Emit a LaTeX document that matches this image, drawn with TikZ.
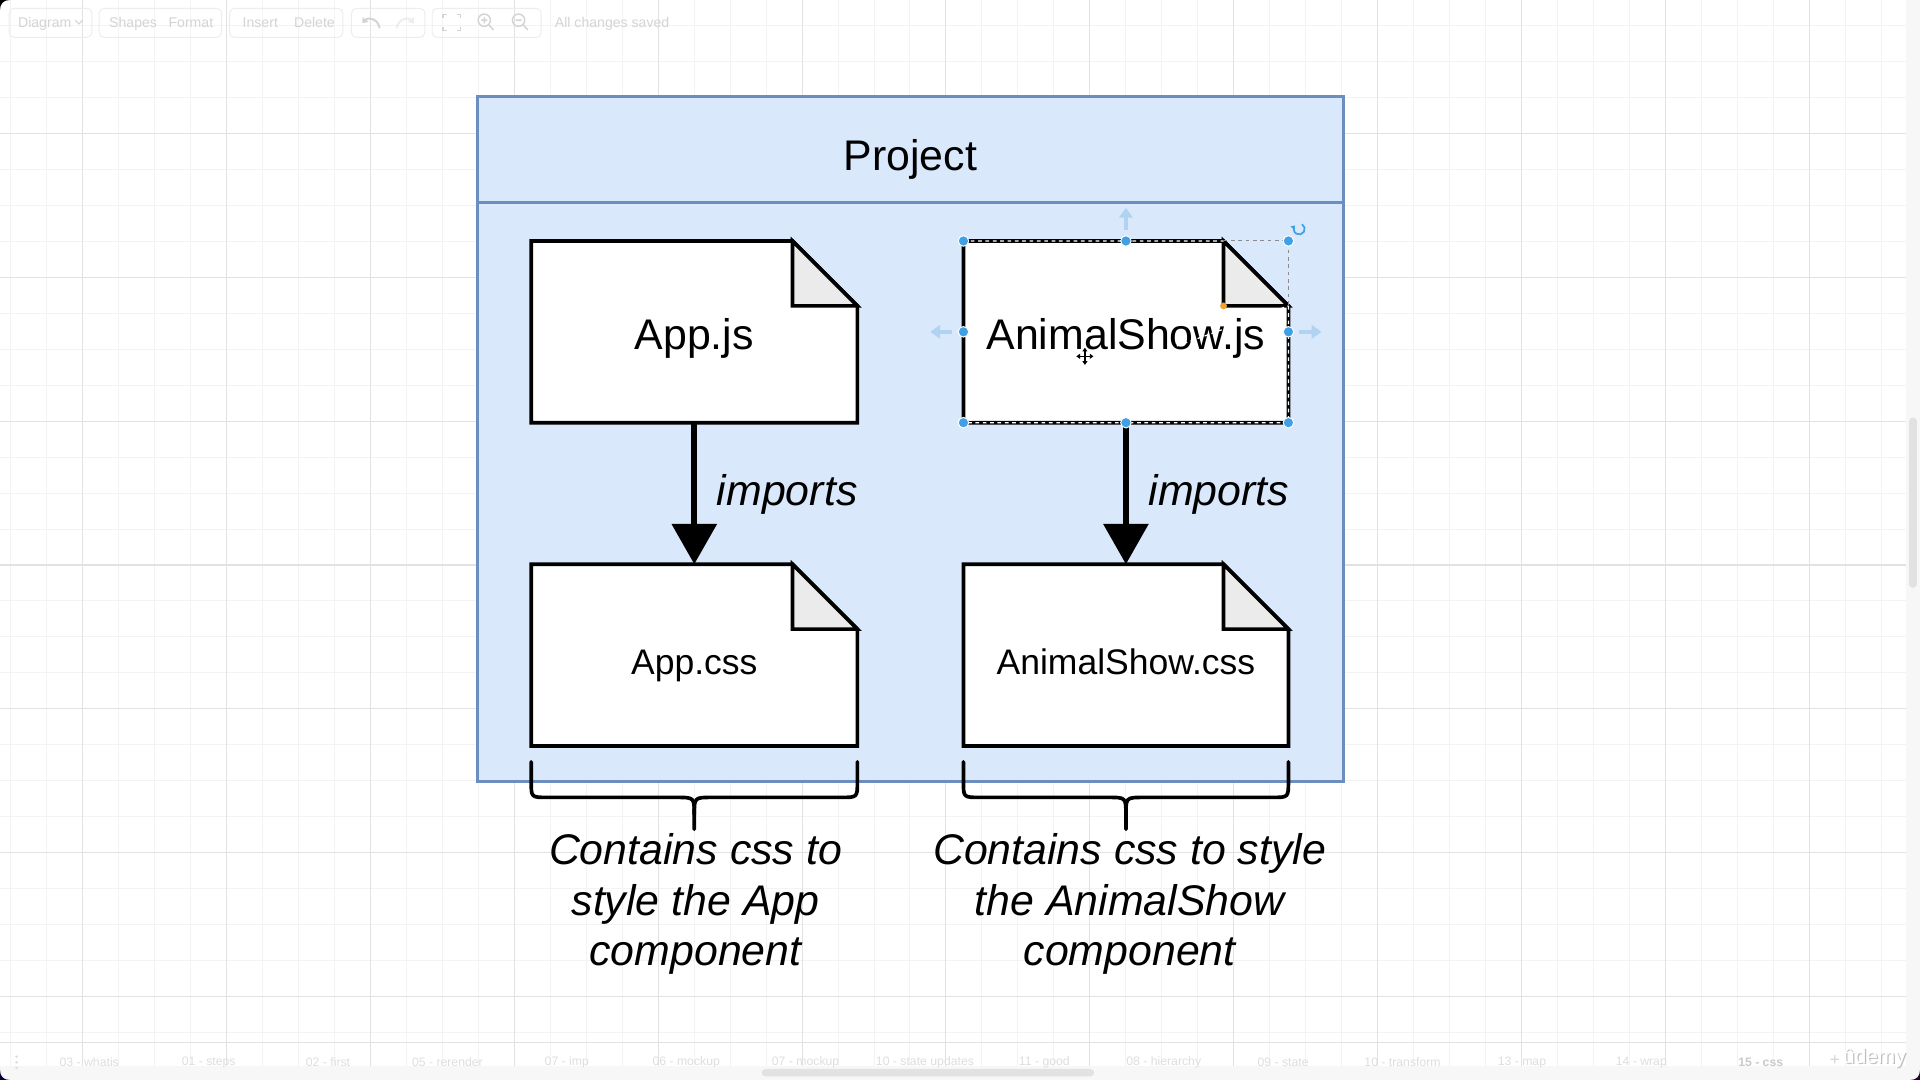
\documentclass[tikz,border=0pt]{standalone}
\usepackage{fontspec}
\setmainfont{Liberation Sans}
\usetikzlibrary{arrows.meta,calc}
\pgfdeclarelayer{bg}
\pgfsetlayers{bg,main}
\definecolor{projfill}{HTML}{DAE8FC}
\definecolor{projline}{HTML}{6C8EBF}
\definecolor{gridmaj}{HTML}{E2E2E2}
\definecolor{gridmin}{HTML}{F3F3F3}
\definecolor{foldfill}{HTML}{EBEBEB}
\definecolor{selblue}{HTML}{3FA0E6}
\definecolor{sellight}{HTML}{AFD3F1}
\definecolor{uitext}{HTML}{D4D4D4}
\definecolor{uibox}{HTML}{EDEDED}
\definecolor{tabtext}{HTML}{DEDEDE}
\definecolor{tabbold}{HTML}{CACACA}
\definecolor{barfill}{HTML}{F7F7F7}
\definecolor{thumb}{HTML}{E2E2E2}
\definecolor{orangedot}{HTML}{F0A030}
\newcommand\drawnote[1]{%
  \draw[noteline, fill=white] (#1.north west) -- ([xshift=-53pt]#1.north east) -- ([yshift=-53pt]#1.north east) -- (#1.south east) -- (#1.south west) -- cycle;
  \draw[noteline, fill=foldfill] ([xshift=-53pt]#1.north east) -- ([xshift=-53pt,yshift=-53pt]#1.north east) -- ([yshift=-53pt]#1.north east) -- cycle;}
\newcommand\drawbrace[1]{%
  \draw[bracestyle] ([yshift=-13pt]#1.south west) -- ([yshift=-29pt]#1.south west)
    .. controls ([yshift=-42pt]#1.south west) .. ([xshift=13pt,yshift=-42pt]#1.south west)
    -- ([xshift=-15pt,yshift=-42pt]#1.south)
    .. controls ([yshift=-42pt]#1.south) .. ([yshift=-56pt]#1.south) -- ([yshift=-68pt]#1.south);
  \draw[bracestyle] ([yshift=-56pt]#1.south)
    .. controls ([yshift=-42pt]#1.south) .. ([xshift=15pt,yshift=-42pt]#1.south)
    -- ([xshift=-13pt,yshift=-42pt]#1.south east)
    .. controls ([yshift=-42pt]#1.south east) .. ([yshift=-29pt]#1.south east) -- ([yshift=-13pt]#1.south east);}
\begin{document}
\begin{tikzpicture}[x=1pt,y=-1pt,
  noteline/.style={draw=black, line width=3pt, line join=miter},
  notebox/.style={minimum width=266pt, minimum height=148pt, inner sep=0pt, text height=29pt, text depth=0pt, font=\fontsize{35}{42}\selectfont},
  cssbox/.style={notebox, text height=31pt, font=\fontsize{29}{35}\selectfont},
  imparrow/.style={line width=5pt, -{Triangle[width=36pt,length=33pt]}},
  implabel/.style={font=\fontsize{35}{42}\selectfont\itshape, inner sep=0pt},
  bracestyle/.style={line width=3pt, line cap=round, line join=round},
  desc/.style={font=\fontsize{35}{41.5}\selectfont\itshape, align=center, inner sep=0pt},
  uitxt/.style={text=uitext, font=\fontsize{11.5}{13}\selectfont, inner sep=0pt, anchor=base west},
  tabtxt/.style={text=tabtext, font=\fontsize{10}{12}\selectfont, inner sep=0pt},
  uiboxst/.style={draw=uibox, line width=0.8pt, rounded corners=4pt},
  handle/.style={fill=selblue, draw=white, line width=0.8pt},
  hint/.style={draw=sellight, line width=3pt, -{Triangle[width=11pt,length=8pt]}},
]
\useasboundingbox (0,0) rectangle (1568,882);

% ---- nodes (text) ----
\node[font=\fontsize{35}{42}\selectfont, inner sep=0pt] (title) at (743.5,130) {Project};
\node[notebox] (appjs) at (567,271) {App.js};
\node[notebox, minimum width=265pt] (asjs) at (919.5,271) {AnimalShow.js};
\node[cssbox] (appcss) at (567,535) {App.css};
\node[cssbox, minimum width=265pt] (ascss) at (919.5,535) {AnimalShow.css};

\begin{pgfonlayer}{bg}
  \fill[white] (0,0) rectangle (1568,882);
  \foreach \i in {-2,...,52} \draw[gridmin, line width=0.8pt] ({67.5+29.375*\i},0) -- ({67.5+29.375*\i},882);
  \foreach \i in {-3,...,27} \draw[gridmin, line width=0.8pt] (0,{108.9+29.375*\i}) -- (1568,{108.9+29.375*\i});
  \foreach \i in {-1,...,13} \draw[gridmaj, line width=0.9pt] ({67.5+117.5*\i},0) -- ({67.5+117.5*\i},882);
  \foreach \i in {-1,...,7} \draw[gridmaj, line width=0.9pt] (0,{108.9+117.5*\i}) -- (1568,{108.9+117.5*\i});
  % bottom bar and scroll tracks
  \draw[gridmaj, line width=0.8pt] (0,851.5) -- (1556.6,851.5);
  \fill[barfill] (0,870.5) rectangle (1568,882);
  \fill[barfill] (1556.6,0) rectangle (1568,882);
  \fill[thumb, rounded corners=3pt] (622,873) rectangle (893.5,879);
  \fill[thumb, rounded corners=3pt] (1559,341) rectangle (1565.5,480);
  % container
  \node[draw=projline, fill=projfill, line width=2.5pt, minimum width=707pt, minimum height=559pt, inner sep=0pt] (proj) at (743.5,358.5) {};
  \draw[projline, line width=2.5pt] ([yshift=-88pt]proj.north west) -- ([yshift=-88pt]proj.north east);
  % notes
  \drawnote{appjs}
  \drawnote{asjs}
  \drawnote{appcss}
  \drawnote{ascss}
\end{pgfonlayer}

% ---- toolbar ----
\draw[uiboxst] (7.5,6.8) rectangle (75,30.5);
\draw[uiboxst] (81,6.8) rectangle (181,30.5);
\draw[uiboxst] (187.5,6.8) rectangle (280,30.5);
\draw[uiboxst] (287,6.8) rectangle (347,30.5);
\draw[uiboxst] (353,6.8) rectangle (442,30.5);
\node[uitxt] (tbdiag) at (14.6,22.3) {Diagram};
\draw[uitext, line width=0.9pt] (61.5,16.5) -- (64.5,19.5) -- (67.5,16.5);
\node[uitxt] (tbshapes) at (89,22.3) {Shapes};
\node[uitxt] (tbformat) at (137.5,22.3) {Format};
\node[uitxt] (tbinsert) at (198,22.3) {Insert};
\node[uitxt] (tbdelete) at (240,22.3) {Delete};
\node[uitxt] (tbsaved) at (453,22.8) {All changes saved};
\draw[uitext, line width=1.6pt, -{Triangle[width=6pt,length=4pt]}] (310,23) .. controls (309,15) and (300,14) .. (296,19);
\draw[uibox, line width=1.6pt, -{Triangle[width=6pt,length=4pt]}] (324,23) .. controls (325,15) and (334,14) .. (338,19);
\draw[uitext, line width=1.3pt] (362,15) -- (362,12) -- (365,12) (373,12) -- (376,12) -- (376,15) (376,22) -- (376,25) -- (373,25) (365,25) -- (362,25) -- (362,22);
\draw[uitext, line width=1.2pt] (395.5,16.5) circle (5) (399,20) -- (403,24.5) (393,16.5) -- (398,16.5) (395.5,14) -- (395.5,19);
\draw[uitext, line width=1.2pt] (423.5,16.5) circle (5) (427,20) -- (431,24.5) (421,16.5) -- (426,16.5);

% ---- bottom tabs ----
\foreach \n/\t [count=\k from 0] in {tA/03 - whatis, tB/01 - steps, tC/02 - first, tD/05 - rerender, tE/07 - imp, tF/06 - mockup, tG/07 - mockup, tH/10 - state updates, tI/11 - good, tJ/08 - hierarchy, tK/09 - state, tL/10 - transform, tM/13 - map, tN/14 - wrap}
  \node[tabtxt] (\n) at ({72.9+97.5*\k},867.5) {\t};
\node[tabtxt, text=tabbold, font=\fontsize{10}{12}\selectfont\bfseries] (tO) at (1437.9,867.5) {15 - css};
\foreach \yy in {863,867.5,872} \fill[tabtext] (13.5,\yy) circle (1.2);
\node[text=uitext, font=\fontsize{14}{16}\selectfont, inner sep=0pt] (udplus) at (1498.5,866) {+};
\node[text=black!25, font=\fontsize{17}{19}\selectfont, inner sep=0pt] (udemy) at (1531.8,864.8) {ûdemy};
\node[text=white, font=\fontsize{17}{19}\selectfont, inner sep=0pt] (udemyw) at (1530.8,864) {ûdemy};

% screen corners
\fill[black] (0,0) -- (8,0) .. controls (3,0) and (0,3) .. (0,8) -- cycle;
\fill[black!80!blue] (0,882) -- (8,882) .. controls (3,882) and (0,879) .. (0,874) -- cycle;
\fill[black!70!violet] (1568,882) -- (1560,882) .. controls (1565,882) and (1568,879) .. (1568,874) -- cycle;

% ---- connectors ----
\draw[imparrow] (appjs) -- (appcss) node[midway, anchor=west, xshift=16pt, yshift=-1pt, implabel] (impA) {imports};
\draw[imparrow] (asjs) -- (ascss) node[midway, anchor=west, xshift=16pt, yshift=-1pt, implabel] (impB) {imports};

% ---- braces and descriptions ----
\drawbrace{appcss}
\drawbrace{ascss}
\node[desc] (appdesc) at ([xshift=1pt,yshift=-129pt]appcss.south) {Contains css to\\style the App\\component};
\node[desc] (asdesc) at ([xshift=3pt,yshift=-129pt]ascss.south) {Contains css to style\\the AnimalShow\\component};

% ---- selection overlay on AnimalShow.js ----
\draw[white, line width=1pt, dash pattern=on 3pt off 3pt] (asjs.north west) -- ([xshift=-53pt]asjs.north east) ([yshift=-53pt]asjs.north east) -- (asjs.south east) -- (asjs.south west) -- cycle;
\draw[black!45, line width=0.8pt, dash pattern=on 3pt off 3pt] ([xshift=-53pt]asjs.north east) -- (asjs.north east) -- ([yshift=-53pt]asjs.north east);
\draw[hint] ([xshift=-9pt]asjs.west) -- ([xshift=-27pt]asjs.west);
\draw[hint] ([xshift=9pt]asjs.east) -- ([xshift=27pt]asjs.east);
\draw[hint] ([yshift=9pt]asjs.north) -- ([yshift=27pt]asjs.north);
\foreach \a in {north west,north,north east,west,east,south west,south,south east}
  \filldraw[handle] (asjs.\a) circle (4.3);
\fill[orangedot] ([xshift=-53pt,yshift=-53pt]asjs.north east) circle (2.8);
\draw[selblue, line width=1.4pt, -{Triangle[width=4.5pt,length=3pt]}] (1061,187) ++(-60:4.5) arc[start angle=-60, end angle=220, radius=4.5];
\begin{scope}[shift={(886,291)}]
  \draw[white, line width=3pt] (-7,0) -- (7,0) (0,-7) -- (0,7);
  \draw[black, line width=1.2pt, {Triangle[width=4pt,length=3pt]}-{Triangle[width=4pt,length=3pt]}] (-7,0) -- (7,0);
  \draw[black, line width=1.2pt, {Triangle[width=4pt,length=3pt]}-{Triangle[width=4pt,length=3pt]}] (0,-7) -- (0,7);
\end{scope}
\end{tikzpicture}
\end{document}
